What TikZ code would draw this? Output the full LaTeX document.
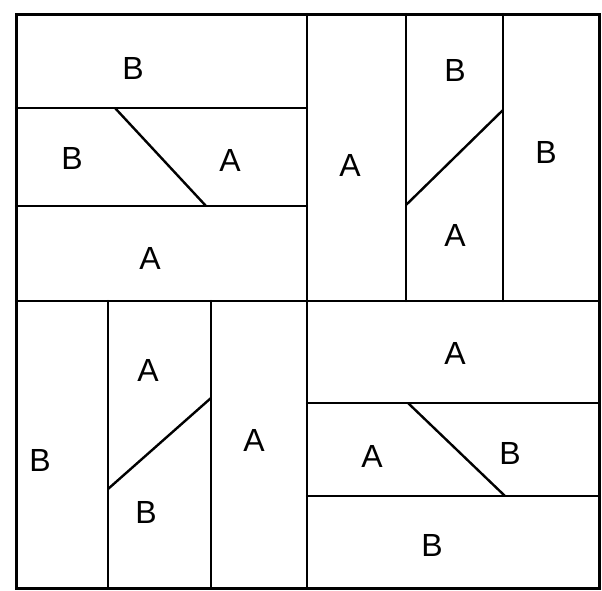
\documentclass[tikz,border=0pt]{standalone}
\usepackage{fontspec}
\setmainfont{Liberation Sans}
\begin{document}
\begin{tikzpicture}[x=1pt,y=-1pt,
  edge/.style={line width=2.4pt,line cap=round},
  outer/.style={line width=3pt},
  lbl/.style={font=\fontsize{32}{32}\selectfont}]
\useasboundingbox (0,0) rectangle (602,590);
% outer frame and quadrant dividers
\draw[outer] (16,14) rectangle (599,588);
\draw[edge] (307,14) -- (307,588);
\draw[edge] (16,301) -- (599,301);
% top-left quadrant
\draw[edge] (16,108) -- (307,108);
\draw[edge] (16,206) -- (307,206);
\coordinate (tl1) at (115,108);
\coordinate (tl2) at (206,206);
\draw[edge] (tl1) -- (tl2);
% top-right quadrant
\draw[edge] (406,14) -- (406,301);
\draw[edge] (503,14) -- (503,301);
\coordinate (tr1) at (503,110);
\coordinate (tr2) at (406,205);
\draw[edge] (tr1) -- (tr2);
% bottom-left quadrant
\draw[edge] (108,301) -- (108,588);
\draw[edge] (211,301) -- (211,588);
\coordinate (bl1) at (211,398);
\coordinate (bl2) at (108,489);
\draw[edge] (bl1) -- (bl2);
% bottom-right quadrant
\draw[edge] (307,403) -- (599,403);
\draw[edge] (307,496) -- (599,496);
\coordinate (br1) at (408,403);
\coordinate (br2) at (505,496);
\draw[edge] (br1) -- (br2);
% labels
\node[lbl] (a1) at (133,68) {B};
\node[lbl] (a2) at (72,158) {B};
\node[lbl] (a3) at (230,160) {A};
\node[lbl] (a4) at (150,258) {A};
\node[lbl] (b1) at (350,165) {A};
\node[lbl] (b2) at (455,70) {B};
\node[lbl] (b3) at (455,235) {A};
\node[lbl] (b4) at (546,152) {B};
\node[lbl] (c1) at (148,370) {A};
\node[lbl] (c2) at (40,460) {B};
\node[lbl] (c3) at (254,440) {A};
\node[lbl] (c4) at (146,512) {B};
\node[lbl] (d1) at (455,353) {A};
\node[lbl] (d2) at (372,456) {A};
\node[lbl] (d3) at (510,453) {B};
\node[lbl] (d4) at (432,545) {B};
\end{tikzpicture}
\end{document}
